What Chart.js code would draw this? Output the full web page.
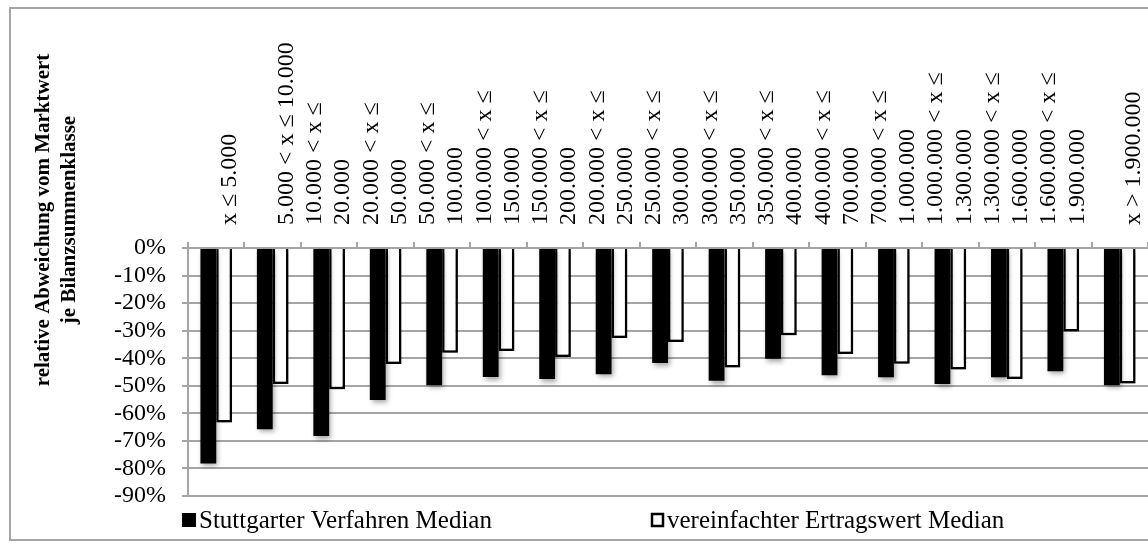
<!DOCTYPE html>
<html>
<head>
<meta charset="utf-8">
<script src="https://cdn.jsdelivr.net/npm/chart.js@4"></script>
<style>
  html, body { margin: 0; padding: 0; background: #fff; overflow: hidden; }
  #wrap { position: relative; width: 1148px; height: 549px; }
</style>
</head>
<body>
<div id="wrap"><canvas id="chart"></canvas></div>
<script>
// Bilanzsummenklassen (x axis, drawn on top)
const categories = [
    'x ≤ 5.000',
    '5.000 < x ≤ 10.000',
    ['10.000 < x ≤', '20.000'],
    ['20.000 < x ≤', '50.000'],
    ['50.000 < x ≤', '100.000'],
    ['100.000 < x ≤', '150.000'],
    ['150.000 < x ≤', '200.000'],
    ['200.000 < x ≤', '250.000'],
    ['250.000 < x ≤', '300.000'],
    ['300.000 < x ≤', '350.000'],
    ['350.000 < x ≤', '400.000'],
    ['400.000 < x ≤', '700.000'],
    ['700.000 < x ≤', '1.000.000'],
    ['1.000.000 < x ≤', '1.300.000'],
    ['1.300.000 < x ≤', '1.600.000'],
    ['1.600.000 < x ≤', '1.900.000'],
    'x > 1.900.000'
];

const seriesNames = ['Stuttgarter Verfahren Median', 'vereinfachter Ertragswert Median'];

// relative deviation in percent
const stuttgarterMedian = [-78.2, -65.8, -68.2, -55.2, -49.8, -46.8, -47.5, -45.8, -41.7, -48.2, -40.2, -46.2, -46.9, -49.4, -46.9, -44.7, -49.8];
const ertragswertMedian = [-63.3, -49.4, -51.3, -42.1, -38.0, -37.4, -39.6, -32.7, -34.1, -43.4, -31.7, -38.5, -42.0, -44.1, -47.5, -30.3, -49.2];

const yTickValues = [0, -10, -20, -30, -40, -50, -60, -70, -80, -90];
const yTitle = ['relative Abweichung vom Marktwert', 'je Bilanzsummenklasse'];

const gridGray = '#a5a5a5';

// outer frame
const framePlugin = {
    id: 'frame',
    beforeDraw(chart) {
        const ctx = chart.ctx;
        ctx.save();
        ctx.fillStyle = '#fff';
        ctx.fillRect(0, 0, chart.width, chart.height);
        ctx.strokeStyle = gridGray;
        ctx.lineWidth = 2;
        ctx.strokeRect(10, 8, chart.width + 20, 532);
        ctx.restore();
    }
};

// soft drop shadow under the bars
const shadowPlugin = {
    id: 'barShadow',
    beforeDatasetsDraw(chart) {
        const ctx = chart.ctx;
        ctx.save();
        ctx.shadowColor = 'rgba(0,0,0,0.35)';
        ctx.shadowBlur = 5;
        ctx.shadowOffsetX = 2;
        ctx.shadowOffsetY = 3;
    },
    afterDatasetsDraw(chart) {
        chart.ctx.restore();
    }
};

// y axis title, two bold lines
const titlePlugin = {
    id: 'yTitle',
    afterDraw(chart) {
        const ctx = chart.ctx;
        ctx.save();
        ctx.translate(44, 220);
        ctx.rotate(-Math.PI / 2);
        ctx.fillStyle = '#000';
        ctx.font = 'bold 21px "Liberation Serif"';
        ctx.textAlign = 'center';
        ctx.textBaseline = 'middle';
        yTitle.forEach((line, i) => ctx.fillText(line, 0, i * 26));
        ctx.restore();
    }
};

// legend below the plot
const legendPlugin = {
    id: 'bottomLegend',
    afterDraw(chart) {
        const ctx = chart.ctx;
        const xs = [182, 652];
        ctx.save();
        ctx.font = '25px "Liberation Serif"';
        ctx.textBaseline = 'alphabetic';
        chart.data.datasets.forEach((ds, i) => {
            const x = xs[i];
            if (i === 0) {
                ctx.fillStyle = '#000';
                ctx.fillRect(x, 513, 14, 14);
                ctx.fillText(ds.label, x + 17, 528);
            } else {
                ctx.fillStyle = '#fff';
                ctx.fillRect(x, 514, 11, 12);
                ctx.strokeStyle = '#000';
                ctx.lineWidth = 2.5;
                ctx.strokeRect(x, 514, 11, 12);
                ctx.fillStyle = '#000';
                ctx.fillText(ds.label, x + 15, 528);
            }
        });
        ctx.restore();
    }
};

const ctx = document.getElementById('chart').getContext('2d');

new Chart(ctx, {
    type: 'bar',
    data: {
        labels: categories,
        datasets: [{
            label: seriesNames[0],
            data: stuttgarterMedian,
            backgroundColor: '#000',
            borderWidth: 0,
            categoryPercentage: 0.56,
            barPercentage: 1
        }, {
            label: seriesNames[1],
            data: ertragswertMedian,
            backgroundColor: '#fff',
            borderColor: '#000',
            borderWidth: 2.5,
            categoryPercentage: 0.56,
            barPercentage: 1
        }]
    },
    options: {
        responsive: true,
        maintainAspectRatio: false,
        animation: false,
        layout: {
            padding: { left: 0, top: 0, right: 0, bottom: 53 }
        },
        plugins: {
            legend: { display: false },
            tooltip: { enabled: false }
        },
        scales: {
            x: {
                position: 'top',
                offset: true,
                grid: {
                    display: true,
                    drawOnChartArea: false,
                    drawTicks: true,
                    tickLength: 6,
                    color: gridGray,
                    lineWidth: 2,
                    offset: true
                },
                border: { display: true, color: gridGray, width: 2 },
                ticks: {
                    autoSkip: false,
                    minRotation: 90,
                    maxRotation: 90,
                    padding: 17,
                    labelOffset: 42,
                    color: '#000',
                    font: { family: 'Liberation Serif', size: 24, lineHeight: 1.17 }
                },
                afterFit(scale) {
                    scale.height = 248;
                }
            },
            y: {
                min: -90,
                max: 0,
                afterBuildTicks(scale) {
                    scale.ticks = yTickValues.map(v => ({ value: v }));
                },
                ticks: {
                    autoSkip: false,
                    padding: 16,
                    color: '#000',
                    font: { family: 'Liberation Serif', size: 24 },
                    callback: function(value) {
                        return value + '%';
                    }
                },
                grid: {
                    color: gridGray,
                    lineWidth: 2,
                    tickLength: 6
                },
                border: { display: true, color: gridGray, width: 2 },
                afterFit(scale) {
                    scale.width = 188;
                }
            }
        }
    },
    plugins: [framePlugin, shadowPlugin, titlePlugin, legendPlugin]
});
</script>
</body>
</html>
